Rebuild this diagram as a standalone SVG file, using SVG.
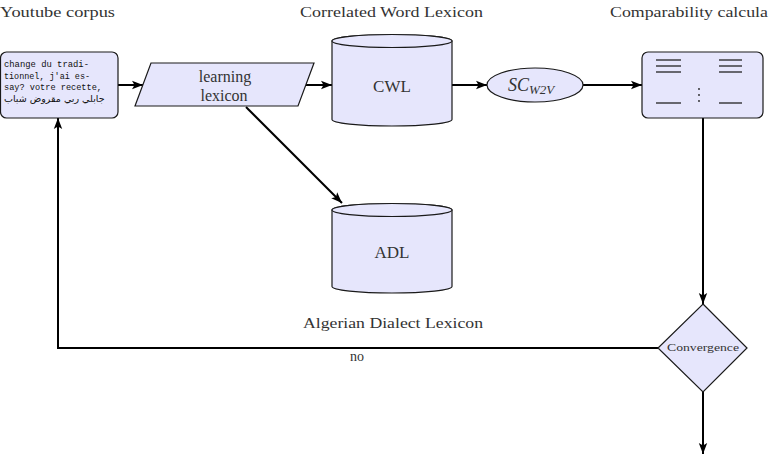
<svg xmlns="http://www.w3.org/2000/svg" width="769" height="456" viewBox="0 0 769 456">
<defs>
<marker id="ah" markerUnits="userSpaceOnUse" markerWidth="12" markerHeight="10" viewBox="0 0 12 10" refX="11" refY="5" orient="auto">
<path d="M0,0.8 L11,5 L0,9.2 L2.5,5 Z" fill="#000"/>
</marker>
</defs>
<style>
.shape{fill:#e6e6fc;stroke:#1a1a1a;stroke-width:1.2}
.lbl{fill:#333;font-size:14px}
.in{fill:#333}
.mono{fill:#111;font-size:8.5px}
.conn{fill:none;stroke:#000;stroke-width:2}
.arr{marker-end:url(#ah)}
.bar{stroke:#222;stroke-width:1.3}
</style>
<rect width="769" height="456" fill="#fff"/>

<g id="labels" font-family="'Liberation Serif','DejaVu Serif',serif">
<text class="lbl" x="0" y="17" textLength="115" lengthAdjust="spacingAndGlyphs">Youtube corpus</text>
<text class="lbl" x="300" y="17" textLength="183" lengthAdjust="spacingAndGlyphs">Correlated Word Lexicon</text>
<text class="lbl" x="610" y="17" textLength="158" lengthAdjust="spacingAndGlyphs">Comparability calcula</text>
<text class="lbl" x="303" y="328" textLength="180" lengthAdjust="spacingAndGlyphs">Algerian Dialect Lexicon</text>
</g>

<g id="connectors">
<line class="conn arr" x1="118" y1="85" x2="143" y2="85"/>
<line class="conn arr" x1="306" y1="85" x2="332" y2="85"/>
<line class="conn arr" x1="246" y1="107" x2="342" y2="203"/>
<line class="conn arr" x1="452" y1="85" x2="487" y2="85"/>
<line class="conn arr" x1="583" y1="85" x2="642" y2="85"/>
<line class="conn arr" x1="703" y1="118" x2="703" y2="304"/>
<polyline class="conn arr" points="658,348 58,348 58,118"/>
<line class="conn arr" x1="703" y1="392" x2="703" y2="454"/>
<text class="lbl" x="357" y="361" text-anchor="middle" font-family="'Liberation Serif','DejaVu Serif',serif">no</text>
</g>

<g id="youtube">
<rect class="shape" x="0.5" y="52" width="117.5" height="66" rx="6"/>
<g font-family="'Liberation Mono','DejaVu Sans Mono',monospace">
<text class="mono" x="4" y="67" textLength="85" lengthAdjust="spacingAndGlyphs">change du tradi-</text>
<text class="mono" x="4" y="79" textLength="86" lengthAdjust="spacingAndGlyphs">tionnel, j'ai es-</text>
<text class="mono" x="4" y="90" textLength="98" lengthAdjust="spacingAndGlyphs">say?  votre recette,</text>
</g>
<text x="4" y="102" font-family="'DejaVu Sans',sans-serif" font-size="9.5" fill="#111">جابلي ربي مقروض شباب</text>
</g>

<g id="learning" font-family="'Liberation Serif','DejaVu Serif',serif">
<polygon class="shape" points="151,63 314,63 298,106 135,106"/>
<text class="in" x="225" y="82" font-size="16" text-anchor="middle">learning</text>
<text class="in" x="224" y="101" font-size="16" text-anchor="middle">lexicon</text>
</g>

<g id="cwl" font-family="'Liberation Serif','DejaVu Serif',serif">
<path class="shape" d="M332,41 L332,119.5 A60,6.5 0 0 0 452,119.5 L452,41 A60,6.5 0 0 0 332,41 Z"/>
<ellipse class="shape" cx="392" cy="41" rx="60" ry="6.5"/>
<text class="in" x="392" y="92" font-size="17" text-anchor="middle">CWL</text>
</g>

<g id="adl" font-family="'Liberation Serif','DejaVu Serif',serif">
<path class="shape" d="M332,210 L332,286.5 A60,6.5 0 0 0 452,286.5 L452,210 A60,6.5 0 0 0 332,210 Z"/>
<ellipse class="shape" cx="392" cy="210" rx="60" ry="6.5"/>
<text class="in" x="392" y="258" font-size="17" text-anchor="middle">ADL</text>
</g>

<g id="scw2v" font-family="'Liberation Serif','DejaVu Serif',serif">
<ellipse class="shape" cx="535" cy="85" rx="48" ry="17"/>
<text class="in" x="508" y="91" font-size="18" font-style="italic">SC<tspan font-size="13" dy="3">W2V</tspan></text>
</g>

<g id="comparability">
<rect class="shape" x="642" y="52" width="121" height="66" rx="6"/>
<line class="bar" x1="656" y1="60" x2="681" y2="60"/>
<line class="bar" x1="656" y1="66" x2="681" y2="66"/>
<line class="bar" x1="656" y1="72" x2="681" y2="72"/>
<line class="bar" x1="656" y1="103" x2="681" y2="103"/>
<line class="bar" x1="719" y1="60" x2="742" y2="60"/>
<line class="bar" x1="719" y1="66" x2="742" y2="66"/>
<line class="bar" x1="719" y1="72" x2="742" y2="72"/>
<line class="bar" x1="719" y1="103" x2="742" y2="103"/>
<circle cx="699" cy="89" r="0.9" fill="#222"/>
<circle cx="699" cy="95" r="0.9" fill="#222"/>
<circle cx="699" cy="101" r="0.9" fill="#222"/>
</g>

<g id="convergence" font-family="'Liberation Serif','DejaVu Serif',serif">
<polygon class="shape" points="703,304 747,348 703,392 658,348"/>
<text class="in" x="703" y="351" font-size="10.5" text-anchor="middle" textLength="72" lengthAdjust="spacingAndGlyphs">Convergence</text>
</g>
</svg>
